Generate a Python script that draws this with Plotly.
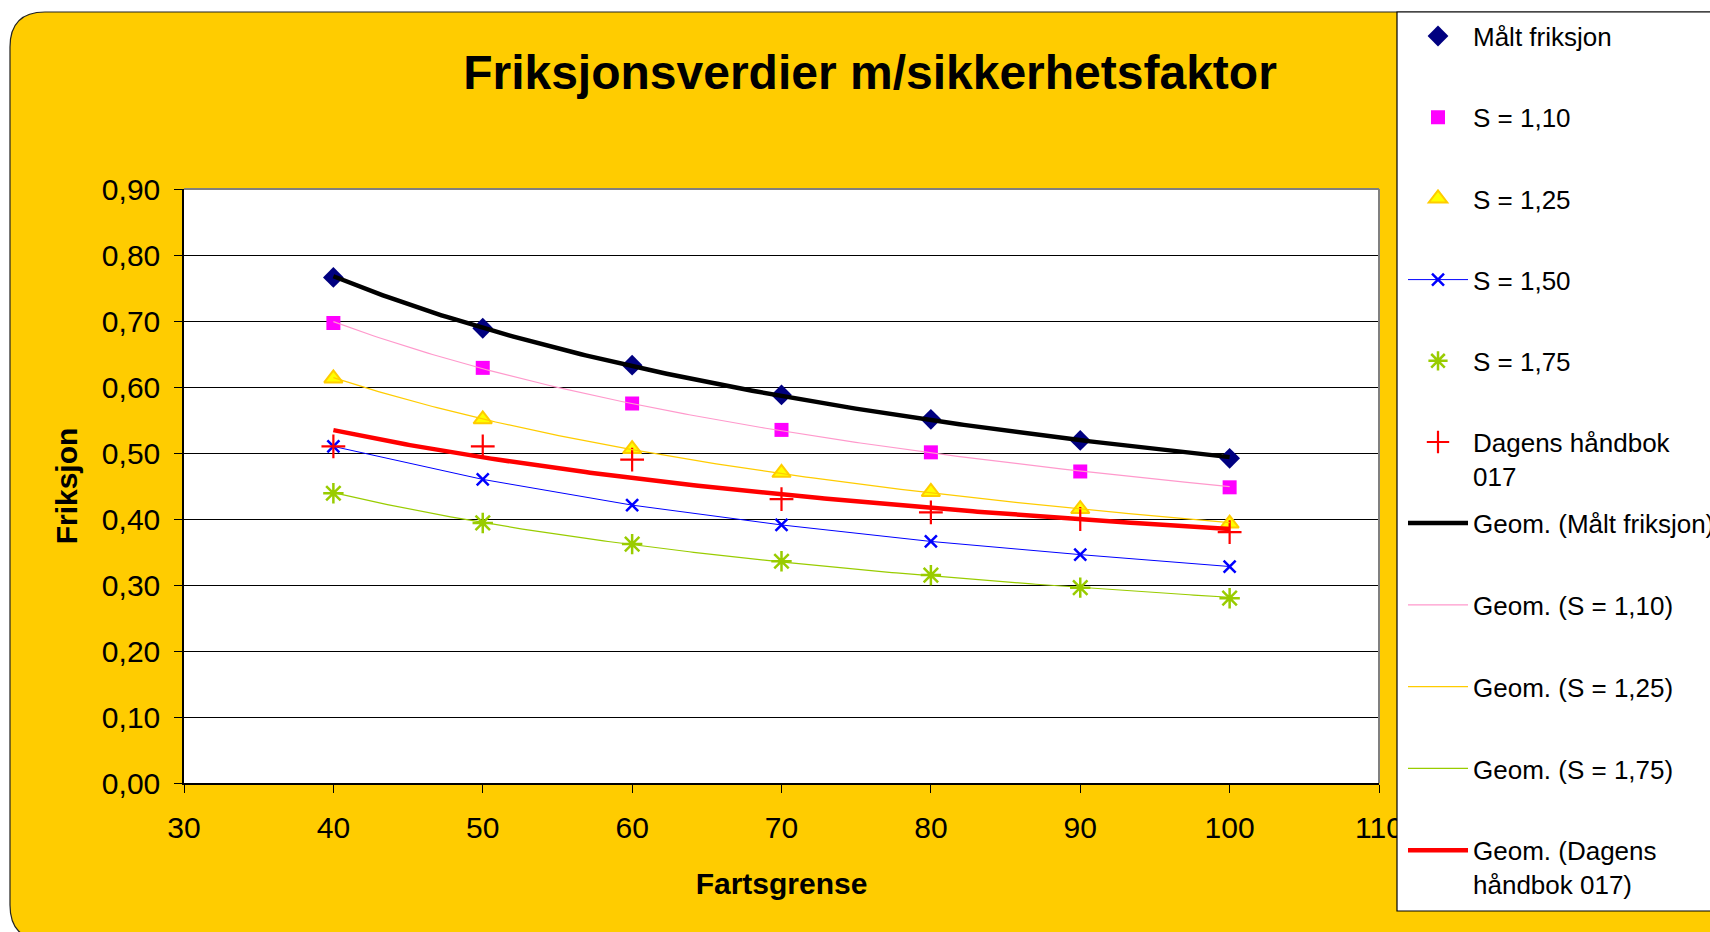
import numpy as np
import plotly.graph_objects as go

# ---------------- data ----------------
fartsgrense = [40, 50, 60, 70, 80, 90, 100]
maalt = [0.766, 0.689, 0.633, 0.588, 0.551, 0.519, 0.492]
s110 = [0.697, 0.629, 0.575, 0.535, 0.501, 0.472, 0.448]
s125 = [0.613, 0.551, 0.506, 0.470, 0.441, 0.415, 0.393]
s150 = [0.510, 0.460, 0.421, 0.391, 0.366, 0.346, 0.328]
s175 = [0.439, 0.394, 0.362, 0.336, 0.315, 0.296, 0.280]
dagens = [0.51, 0.51, 0.49, 0.43, 0.41, 0.40, 0.38]

x_ticks = [30, 40, 50, 60, 70, 80, 90, 100, 110]
y_ticks = [0.0, 0.1, 0.2, 0.3, 0.4, 0.5, 0.6, 0.7, 0.8, 0.9]

title_text = "Friksjonsverdier m/sikkerhetsfaktor"
x_title = "Fartsgrense"
y_title = "Friksjon"

# ---------------- geometry ----------------
W, H = 1710, 932
L, R, T, B = 184, 1379, 189, 783
FONT = "Liberation Sans, Arial, sans-serif"


def px2x(p):
    return (p - L) / (R - L)


def px2y(p):
    return (B - p) / (B - T)


def rounded_path(x0, y0, x1, y1, r):
    pts = [
        ("M", [(x0 + r, y0)]),
        ("L", [(x1 - r, y0)]),
        ("Q", [(x1, y0), (x1, y0 + r)]),
        ("L", [(x1, y1 - r)]),
        ("Q", [(x1, y1), (x1 - r, y1)]),
        ("L", [(x0 + r, y1)]),
        ("Q", [(x0, y1), (x0, y1 - r)]),
        ("L", [(x0, y0 + r)]),
        ("Q", [(x0, y0), (x0 + r, y0)]),
    ]
    s = ""
    for cmd, ps in pts:
        s += cmd + " ".join(f"{px2x(a):.5f},{px2y(b):.5f}" for a, b in ps) + " "
    return s + "Z"


def geom_fit(xs, ys):
    lx, ly = np.log(np.array(xs, float)), np.log(np.array(ys, float))
    b, a = np.polyfit(lx, ly, 1)
    xx = np.linspace(min(xs), max(xs), 200)
    return xx, np.exp(a) * xx ** b


fig = go.Figure()

# point series
fig.add_trace(go.Scatter(x=fartsgrense, y=maalt, mode="markers", name="Målt friksjon",
                         marker=dict(symbol="diamond", size=16, color="#000080"),
                         legend="legend", legendgroup="a"))
fig.add_trace(go.Scatter(x=fartsgrense, y=s110, mode="markers", name="S = 1,10",
                         marker=dict(symbol="square", size=14, color="#FF00FF"),
                         legend="legend", legendgroup="b"))
fig.add_trace(go.Scatter(x=fartsgrense, y=s125, mode="markers", name="S = 1,25",
                         marker=dict(symbol="triangle-up", size=16, color="#FFFF00",
                                     line=dict(color="#FFCC00", width=2)),
                         legend="legend", legendgroup="c"))
fig.add_trace(go.Scatter(x=fartsgrense, y=s150, mode="lines+markers", name="S = 1,50",
                         line=dict(color="#0000FF", width=1),
                         marker=dict(symbol="x-thin-open", size=12, color="#0000FF",
                                     line=dict(color="#0000FF", width=2.5)),
                         legend="legend", legendgroup="d"))
fig.add_trace(go.Scatter(x=fartsgrense, y=s175, mode="markers", name="S = 1,75",
                         marker=dict(symbol="asterisk-open", size=17, color="#99CC00",
                                     line=dict(color="#99CC00", width=2.5)),
                         legend="legend", legendgroup="e"))
fig.add_trace(go.Scatter(x=fartsgrense, y=dagens, mode="markers", name="Dagens håndbok<br>017",
                         marker=dict(symbol="cross-thin-open", size=17, color="#FF0000",
                                     line=dict(color="#FF0000", width=2.2)),
                         legend="legend2", legendgroup="f"))

# geometric (power) trend lines computed from the series
trend_specs = [
    (maalt, "Geom. (Målt friksjon)", "#000000", 4.5),
    (s110, "Geom. (S = 1,10)", "#FF99CC", 1.2),
    (s125, "Geom. (S = 1,25)", "#FFCC00", 1.2),
    (s175, "Geom. (S = 1,75)", "#99CC00", 1.2),
    (dagens, "Geom. (Dagens<br>håndbok 017)", "#FF0000", 4.5),
]
for i, (ys, nm, col, w) in enumerate(trend_specs):
    xx, yy = geom_fit(fartsgrense, ys)
    fig.add_trace(go.Scatter(x=xx, y=yy, mode="lines", name=nm,
                             line=dict(color=col, width=w),
                             legend="legend3", legendgroup=f"t{i}"))

shapes = [
    # yellow rounded chart background
    dict(type="path", xref="paper", yref="paper", layer="below",
         path=rounded_path(10, 12, 1745, 940, 35),
         fillcolor="#FFCC00", line=dict(color="#222222", width=1.2)),
    # white plot area
    dict(type="rect", xref="paper", yref="paper", layer="below",
         x0=0, x1=1, y0=0, y1=1, fillcolor="#FFFFFF", line=dict(width=0)),
    # gray plot border top / right
    dict(type="line", xref="paper", yref="paper", layer="above",
         x0=0, x1=1, y0=1, y1=1, line=dict(color="#808080", width=2)),
    dict(type="line", xref="paper", yref="paper", layer="above",
         x0=1, x1=1, y0=0, y1=1, line=dict(color="#808080", width=2)),
    # legend box
    dict(type="rect", xref="paper", yref="paper", layer="above",
         x0=px2x(1397), x1=px2x(1760), y0=px2y(911), y1=px2y(12),
         fillcolor="#FFFFFF", line=dict(color="#000000", width=1.2)),
]

legend_common = dict(
    xref="container", yref="container", xanchor="left", yanchor="top",
    bgcolor="rgba(0,0,0,0)", borderwidth=0, traceorder="grouped",
    itemwidth=60, valign="top",
    font=dict(family=FONT, size=26, color="#000000"),
    itemclick=False, itemdoubleclick=False,
)
LEG_X = 1403 / W

fig.update_layout(
    width=W, height=H,
    margin=dict(l=L, r=W - R, t=T, b=H - B, pad=0, autoexpand=False),
    paper_bgcolor="#FFFFFF", plot_bgcolor="#FFFFFF",
    separators=", ",
    font=dict(family=FONT, color="#000000"),
    showlegend=True,
    title=dict(text=f"<b>{title_text}</b>", xref="container", yref="container",
               x=870 / W, y=1 - 72 / H, xanchor="center", yanchor="middle",
               font=dict(family=FONT, size=48, color="#000000")),
    legend=dict(x=LEG_X, y=1 - 12.6 / H, tracegroupgap=44.4, **legend_common),
    legend2=dict(x=LEG_X, y=1 - 418.6 / H, tracegroupgap=0, **legend_common),
    legend3=dict(x=LEG_X, y=1 - 499.6 / H, tracegroupgap=45, **legend_common),
    shapes=shapes,
    xaxis=dict(range=[30, 110], tickvals=x_ticks, ticks="outside", ticklen=8,
               tickcolor="#000000", tickwidth=1,
               showline=True, linecolor="#000000", linewidth=1.5,
               showgrid=False, zeroline=False,
               tickfont=dict(family=FONT, size=30, color="#000000"),
               ticklabelstandoff=9,
               title=dict(text=f"<b>{x_title}</b>", standoff=30,
                          font=dict(family=FONT, size=30, color="#000000"))),
    yaxis=dict(range=[0, 0.9], tickvals=y_ticks, tickformat=".2f", ticks="outside",
               ticklen=8, tickcolor="#000000", tickwidth=1,
               showline=True, linecolor="#000000", linewidth=1.5,
               showgrid=True, gridcolor="#000000", gridwidth=1, zeroline=False,
               tickfont=dict(family=FONT, size=30, color="#000000"),
               ticklabelstandoff=8,
               title=dict(text=f"<b>{y_title}</b>", standoff=15,
                          font=dict(family=FONT, size=30, color="#000000"))),
)

fig.write_html("out.html", config={"displayModeBar": False},
               post_script="document.body.style.margin='0';document.body.style.overflow='hidden';")
